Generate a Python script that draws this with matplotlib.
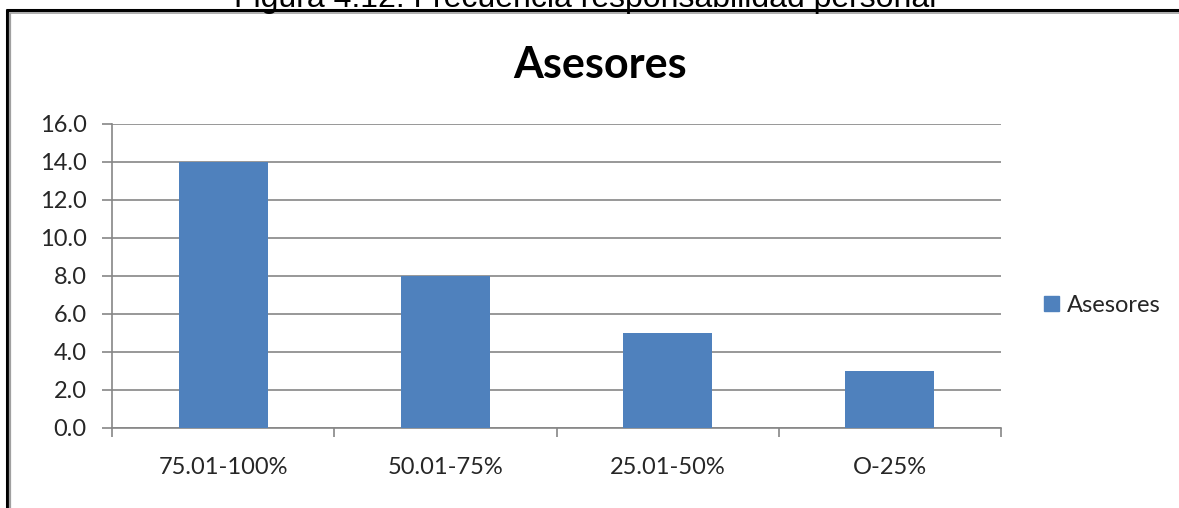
import matplotlib
matplotlib.use("Agg")
import matplotlib.pyplot as plt
from matplotlib.lines import Line2D
import numpy as np

# Data
categories = ["75.01-100%", "50.01-75%", "25.01-50%", "O-25%"]
values = [14, 8, 5, 3]
series_name = "Asesores"
y_ticks = [0, 2, 4, 6, 8, 10, 12, 14, 16]
caption = "Figura 4.12. Frecuencia responsabilidad personal"

W, H = 1179, 508
fig = plt.figure(figsize=(W / 100, H / 100), dpi=100)
fig.patch.set_facecolor("white")

bar_color = "#4F81BD"
grid_color = "#868686"
text_color = "#262626"
font = "Lato"
tick_size = 17

# Plot area
left, right, top, bottom = 112, 1001, 124, 428
ax = fig.add_axes([left / W, 1 - bottom / H, (right - left) / W, (bottom - top) / H])
x = np.arange(len(categories))
ax.bar(x, values, width=0.4, color=bar_color, zorder=3, label=series_name)
ax.set_xlim(-0.5, len(categories) - 0.5)
ax.set_ylim(0, 16)

ax.set_yticks(y_ticks)
ax.set_yticklabels([f"{v:.1f}" for v in y_ticks], fontsize=tick_size, family=font, color=text_color)
ax.yaxis.grid(True, color=grid_color, linewidth=1.2, zorder=0)
ax.tick_params(axis="y", length=7.2, width=1.2, color=grid_color, pad=11)

# Category boundaries as major ticks, labels centered on minor ticks
ax.set_xticks(np.arange(len(categories) + 1) - 0.5)
ax.set_xticklabels([])
ax.set_xticks(x, minor=True)
ax.set_xticklabels(categories, minor=True, fontsize=tick_size, family=font, color=text_color)
ax.tick_params(axis="x", which="major", length=6.5, width=1.2, color=grid_color)
ax.tick_params(axis="x", which="minor", length=0, pad=21)

for s in ["top", "right"]:
    ax.spines[s].set_visible(False)
for s in ["left", "bottom"]:
    ax.spines[s].set_color(grid_color)
    ax.spines[s].set_linewidth(1.2)
ax.set_facecolor("white")

# Title
fig.text(600 / W, 1 - 78 / H, series_name, ha="center", va="baseline",
         fontsize=31, fontweight="bold", family=font, color="black")

# Legend
fig.legend(handles=[plt.Rectangle((0, 0), 1, 1, color=bar_color)], labels=[series_name],
           loc="center left", bbox_to_anchor=(1044 / W, 1 - 305 / H), frameon=False,
           prop={"family": font, "size": tick_size}, handlelength=0.62, handleheight=0.62,
           handletextpad=0.35, borderpad=0, borderaxespad=0, labelcolor=text_color)

# Figure caption (runs off the top edge)
fig.text(585 / W, 1 - 7 / H, caption, ha="center", va="baseline",
         fontsize=23, family="Liberation Sans", color="black")

# Frame: black outer line and grey inner line
def fline(xs, ys, color, lw):
    fig.add_artist(Line2D([v / W for v in xs], [1 - v / H for v in ys],
                          color=color, linewidth=lw, transform=fig.transFigure,
                          solid_capstyle="butt"))

fline([7, 7], [9, H], "black", 2.2)
fline([6, W], [10, 10], "black", 2.2)
fline([10, 10], [12.5, H], "#A0A0A0", 1.6)
fline([9, W], [12.8, 12.8], "#A0A0A0", 1.2)

fig.savefig("out.png", dpi=100, facecolor="white")
